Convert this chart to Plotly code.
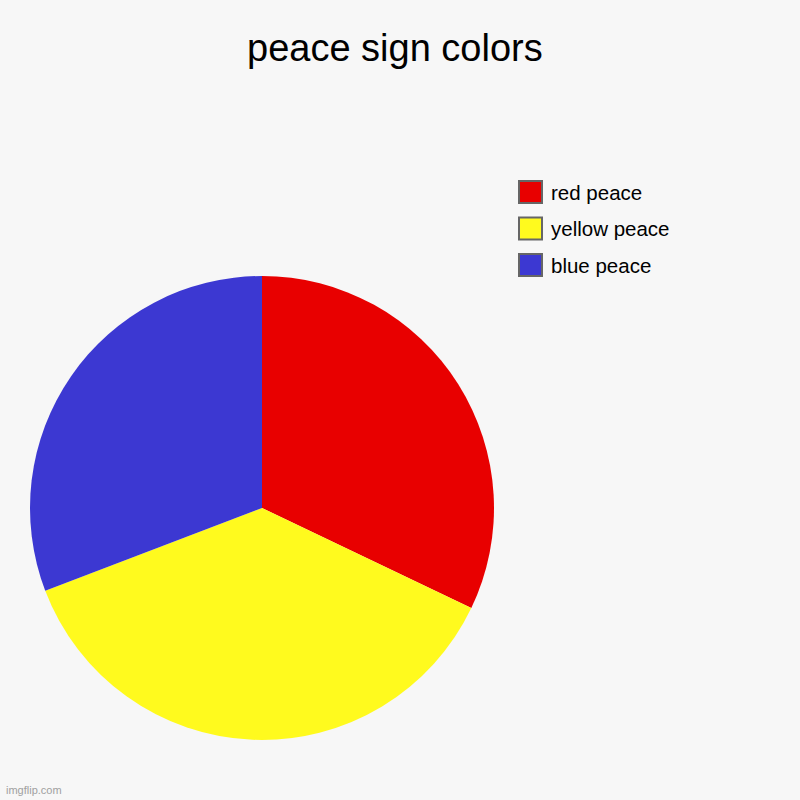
import plotly.graph_objects as go

title = "peace sign colors"
labels = ["red peace", "yellow peace", "blue peace"]
values = [32.1, 37.1, 30.8]
colors = ["#e80000", "#fffa1e", "#3c38d2"]

W = H = 800
font = "Liberation Sans, Arial, sans-serif"

fig = go.Figure()
fig.add_trace(go.Pie(
    labels=labels,
    values=values,
    marker=dict(colors=colors, line=dict(width=0)),
    sort=False,
    direction="clockwise",
    rotation=0,
    textinfo="none",
    hoverinfo="label+percent",
    showlegend=False,
    domain=dict(x=[30 / W, 494 / W], y=[1 - 740 / H, 1 - 276 / H]),
))

# legend drawn by hand: big squares with grey border
shapes = []
annotations = []
for i, (lab, col) in enumerate(zip(labels, colors)):
    top = 181 + i * 36.5
    shapes.append(dict(
        type="rect", xref="paper", yref="paper",
        x0=519 / W, x1=542 / W, y0=1 - (top + 22) / H, y1=1 - top / H,
        fillcolor=col, line=dict(color="#666666", width=2),
    ))
    annotations.append(dict(
        x=549 / W, y=1 - (top + 11) / H, xref="paper", yref="paper",
        text=lab, showarrow=False, xanchor="left", yanchor="middle",
        font=dict(family=font, size=20.5, color="#000000"),
    ))

annotations.append(dict(
    x=394.5 / W, y=1 - 48 / H, xref="paper", yref="paper",
    text=title, showarrow=False, xanchor="center", yanchor="middle",
    font=dict(family=font, size=38, color="#000000"),
))
annotations.append(dict(
    x=4 / W, y=1 - 790 / H, xref="paper", yref="paper",
    text="imgflip.com", showarrow=False, xanchor="left", yanchor="middle",
    font=dict(family=font, size=11, color="#a0a0a0"),
))

fig.update_layout(
    width=W, height=H,
    margin=dict(l=0, r=0, t=0, b=0),
    paper_bgcolor="#f7f7f7",
    plot_bgcolor="#f7f7f7",
    shapes=shapes,
    annotations=annotations,
)

fig.write_html("out.html", config={"displayModeBar": False},
               post_script="document.body.style.margin='0';")
